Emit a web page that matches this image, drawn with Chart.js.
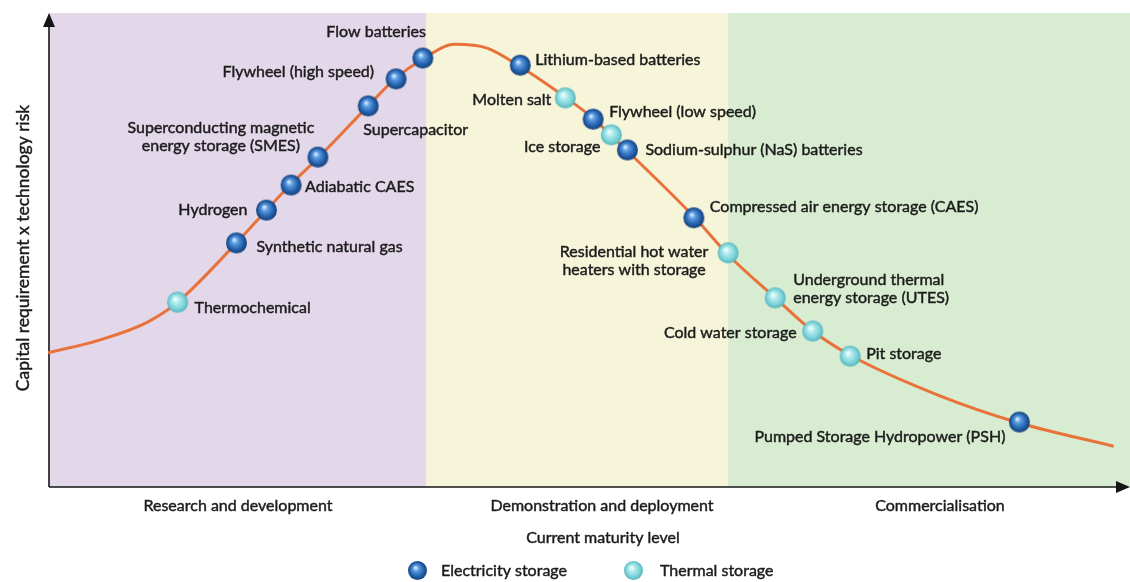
<!DOCTYPE html>
<html><head><meta charset="utf-8">
<script src="https://cdn.jsdelivr.net/npm/chart.js@4"></script>
<style>html,body{margin:0;padding:0;background:#fff}#wrap{width:1130px;height:582px;position:relative}</style>
</head><body><div id="wrap"><canvas id="c" width="1130" height="582"></canvas></div>
<script>
// ---- DATA (maturity 0-100, capital x risk 0-100) ----
const curveX = [0, 4.8, 9.3, 12.1, 17.6, 20.4, 22.6, 25.3, 29.9, 32.4, 35.0, 38.0, 41.0, 44.0, 48.5, 51.0, 52.5, 54.0, 60.4, 63.5, 67.9, 71.4, 74.9, 83.1, 90.7, 99.5];
const curveY = [28.3, 31.0, 34.8, 39.0, 51.5, 58.4, 63.7, 69.6, 80.4, 86.1, 90.3, 93.4, 92.6, 88.8, 81.9, 77.6, 74.3, 71.1, 56.8, 49.0, 39.9, 32.9, 27.8, 19.4, 13.5, 8.6];
const techNames = ["Thermochemical","Synthetic natural gas","Hydrogen","Adiabatic CAES","Superconducting magnetic\nenergy storage (SMES)","Supercapacitor","Flywheel (high speed)","Flow batteries","Lithium-based batteries","Molten salt","Flywheel (low speed)","Ice storage","Sodium-sulphur (NaS) batteries","Compressed air energy storage (CAES)","Residential hot water\nheaters with storage","Underground thermal\nenergy storage (UTES)","Cold water storage","Pit storage","Pumped Storage Hydropower (PSH)"];
const techX = [12.1, 17.6, 20.4, 22.7, 25.2, 29.9, 32.5, 35.0, 44.1, 48.3, 50.9, 52.6, 54.1, 60.3, 63.5, 67.9, 71.4, 74.9, 90.7];
const techY = [39.0, 51.5, 58.4, 63.7, 69.6, 80.4, 86.1, 90.5, 89.0, 82.1, 77.6, 74.3, 71.1, 56.8, 49.4, 39.9, 32.9, 27.6, 13.7];
const techType = ["T","E","E","E","E","E","E","E","E","T","E","T","E","E","T","T","T","T","E"];
const stageNames = ["Research and development","Demonstration and deployment","Commercialisation"];
const stageBounds = [0, 35.3, 63.5, 100];
const xTitle = "Current maturity level";
const yTitle = "Capital requirement x technology risk";
const legendNames = ["Electricity storage","Thermal storage"];

// ---- label placement (pixel offsets from marker; align) ----
const labelPlace = [
 [17,6,'left'],[20,4,'left'],[-19,0,'right'],[14,2,'left'],[-97,-20,'center'],
 [-5,24,'left'],[-22,-7,'right'],[3,-26,'right'],[15,-5,'left'],[-14,2,'right'],
 [16,-7,'left'],[-11,12,'right'],[18,0,'left'],[16,-11,'left'],[-94,8,'center'],
 [18,-9,'left'],[-16,2,'right'],[16,-2,'left'],[-14,15,'right']
];

const FONT = '"Lato", "Open Sans", sans-serif';
const TXT = '#1c1c1c';
const zoneColors = ['#e3d7ea','#f6f4d9','#d8ecd1'];

function sphere(type, r){
  const s = r*2+2, c = document.createElement('canvas'); c.width = s; c.height = s;
  const x = c.getContext('2d');
  const g = x.createRadialGradient(s*0.4, s*0.36, 0.5, s/2, s/2, r);
  if(type==='E'){ g.addColorStop(0,'#d6ecff'); g.addColorStop(0.28,'#5b9be0'); g.addColorStop(0.7,'#2462ad'); g.addColorStop(1,'#163f78'); }
  else { g.addColorStop(0,'#f4ffff'); g.addColorStop(0.3,'#b3ecee'); g.addColorStop(0.75,'#78d0d6'); g.addColorStop(1,'#53b3bb'); }
  x.fillStyle = g; x.beginPath(); x.arc(s/2, s/2, r, 0, Math.PI*2); x.fill();
  return c;
}
const sphE = sphere('E',10.5), sphT = sphere('T',10.5);
const sphEs = sphere('E',9.5), sphTs = sphere('T',9.5);

const pts = techX.map((x,i)=>({x, y: techY[i]}));

function txt(ctx, s, x, y){
  ctx.fillText(s, x, y);
  ctx.strokeText(s, x, y);
}

const bgPlugin = {
  id:'bg',
  beforeDatasetsDraw(ch){
    const {ctx, scales:{x,y}} = ch;
    const top = y.getPixelForValue(100), bot = y.getPixelForValue(0);
    ctx.save();
    for(let i=0;i<3;i++){
      const l = x.getPixelForValue(stageBounds[i]) + (i===0?1:0);
      const r = i===2 ? ch.width : x.getPixelForValue(stageBounds[i+1]);
      ctx.fillStyle = zoneColors[i];
      ctx.fillRect(l, top, r-l, bot-top);
    }
    // axes
    ctx.strokeStyle = '#151515'; ctx.fillStyle = '#151515'; ctx.lineWidth = 1.6;
    const x0 = x.getPixelForValue(0)+1;
    ctx.beginPath(); ctx.moveTo(x0, bot); ctx.lineTo(1120, bot); ctx.stroke();
    ctx.beginPath(); ctx.moveTo(1130, bot); ctx.lineTo(1116, bot-6); ctx.lineTo(1116, bot+6); ctx.closePath(); ctx.fill();
    ctx.beginPath(); ctx.moveTo(x0, bot); ctx.lineTo(x0, 24); ctx.stroke();
    ctx.beginPath(); ctx.moveTo(x0, 13); ctx.lineTo(x0-6, 27); ctx.lineTo(x0+6, 27); ctx.closePath(); ctx.fill();
    ctx.restore();
  },
  afterDatasetsDraw(ch){
    const {ctx, scales:{x,y}} = ch;
    ctx.save();
    ctx.fillStyle = TXT; ctx.strokeStyle = TXT; ctx.lineWidth = 0.45;
    ctx.font = '16px ' + FONT;
    ctx.textBaseline = 'middle';
    techNames.forEach((n,i)=>{
      const px = x.getPixelForValue(techX[i]), py = y.getPixelForValue(techY[i]);
      const [dx,dy,al] = labelPlace[i];
      ctx.textAlign = al;
      const lines = n.split('\n');
      lines.forEach((ln,k)=>{
        const off = lines.length>1 ? (k - (lines.length-1)/2)*18 : 0;
        txt(ctx, ln, px+dx, py+dy+off);
      });
    });
    // stage labels
    ctx.textAlign = 'center';
    ctx.font = '16px ' + FONT;
    const centers = [238, 602, 940];
    stageNames.forEach((s,i)=> txt(ctx, s, centers[i], 506));
    txt(ctx, xTitle, 603, 538);
    // y title
    ctx.save(); ctx.translate(23, 248); ctx.rotate(-Math.PI/2); ctx.font = '17.5px ' + FONT; txt(ctx, yTitle, 0, 0); ctx.restore();
    // legend
    ctx.drawImage(sphEs, 417-10, 570-10);
    ctx.drawImage(sphTs, 633-10, 570-10);
    ctx.textAlign = 'left';
    txt(ctx, legendNames[0], 441, 571);
    txt(ctx, legendNames[1], 660, 571);
    ctx.restore();
  }
};

new Chart(document.getElementById('c'), {
  type:'scatter',
  data:{ datasets:[
    { data: pts.filter((p,i)=>techType[i]==='E'), pointStyle: sphE, pointRadius: 10, pointHoverRadius:10, order:0 },
    { data: pts.filter((p,i)=>techType[i]==='T'), pointStyle: sphT, pointRadius: 10, pointHoverRadius:10, order:0 },
    { data: curveX.map((x,i)=>({x, y: curveY[i]})), showLine:true, borderColor:'#e9723a', borderWidth:3,
      pointRadius:0, cubicInterpolationMode:'monotone', order:1 }
  ]},
  options:{
    responsive:false, animation:false, events:[],
    layout:{ padding:{ left:48, right:8, top:13, bottom:95 } },
    plugins:{ legend:{display:false}, tooltip:{enabled:false} },
    scales:{
      x:{ type:'linear', min:0, max:100, display:false },
      y:{ type:'linear', min:0, max:100, display:false }
    }
  },
  plugins:[bgPlugin]
});
</script></body></html>
